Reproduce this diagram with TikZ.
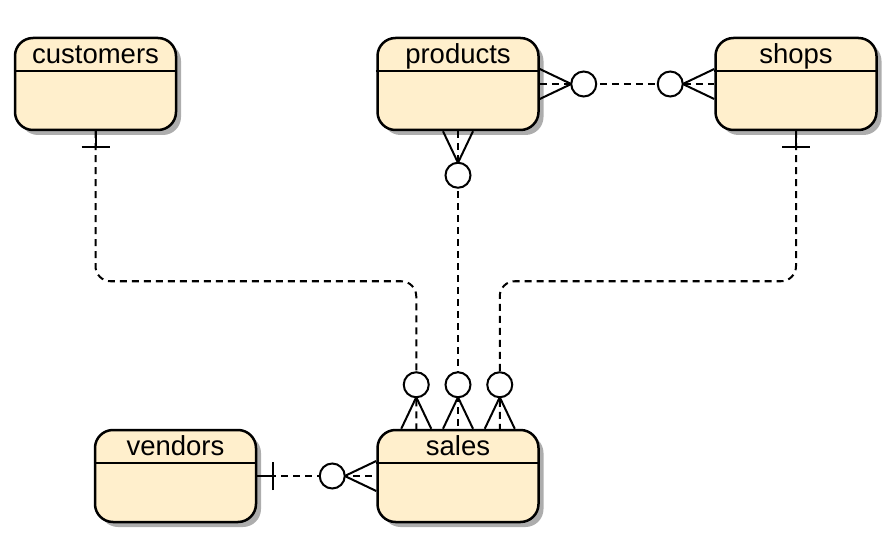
\documentclass[tikz,border=0pt]{standalone}
\usepackage{fontspec}
\setmainfont{Liberation Sans}
\usetikzlibrary{calc,shadows}
\definecolor{entfill}{RGB}{255,239,204}
\begin{document}
\begin{tikzpicture}[x=1pt,y=-1pt,
  entity/.style={draw, line width=2.5pt, fill=entfill, rounded corners=18pt,
    minimum width=161pt, minimum height=92pt, inner sep=0pt,
    drop shadow={shadow xshift=5pt, shadow yshift=-5pt, fill=black, opacity=0.32}},
  headline/.style={line width=1.9pt},
  title/.style={font=\fontsize{27.5}{30}\selectfont, anchor=base, inner sep=0pt},
  rel/.style={line width=2pt, dash pattern=on 7pt off 5pt},
  solidline/.style={line width=2pt},
  % zero-or-many end: local +y points away from the entity edge
  zeromany/.pic={
    \draw[solidline, line join=round] (-15,0) -- (0,31.5) -- (15,0);
    \filldraw[solidline, fill=white] (0,44) circle (12.5pt);
  },
  % exactly-one end
  onlyone/.pic={
    \draw[solidline] (0,0) -- (0,16);
    \draw[solidline] (-14,16) -- (14,16);
  }
]
\useasboundingbox (0,0) rectangle (891,545);

% entities
\node[entity] (customers) at (95.5,84) {};
\node[entity] (products)  at (458,84) {};
\node[entity] (shops)     at (796,84) {};
\node[entity] (vendors)   at (175.5,476) {};
\node[entity] (sales)     at (458,476) {};

\foreach \e/\t in {customers/customers, products/products, shops/shops, vendors/vendors, sales/sales}{
  \draw[headline] ($(\e.north west)+(0,34)$) -- ($(\e.north east)+(0,34)$);
  \node[title] (\e-title) at ($(\e.north)+(0,27)$) {\t};
}

% relationships
\draw[rel, rounded corners=15pt] (customers.south) -- ++(0,150) -| ($(sales.north west)+(40,0)$);
\draw[rel] (products.south) -- (sales.north);
\draw[rel, rounded corners=15pt] (shops.south) -- ++(0,150) -| ($(sales.north east)+(-40,0)$);
\draw[rel] (products.east) -- (shops.west);
\draw[rel] (vendors.east) -- (sales.west);

% cardinality marks
\pic at (customers.south) {onlyone};
\pic at (shops.south) {onlyone};
\pic[rotate=90] at (vendors.east) {onlyone};

\pic[rotate=180] at ($(sales.north west)+(40,0)$) {zeromany};
\pic[rotate=180] at (sales.north) {zeromany};
\pic[rotate=180] at ($(sales.north east)+(-40,0)$) {zeromany};
\pic[rotate=-90] at (sales.west) {zeromany};
\pic at (products.south) {zeromany};
\pic[rotate=90] at (products.east) {zeromany};
\pic[rotate=-90] at (shops.west) {zeromany};
\end{tikzpicture}
\end{document}
